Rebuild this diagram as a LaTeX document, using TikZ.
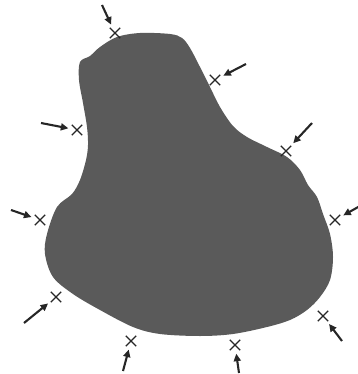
\documentclass[tikz,border=0pt]{standalone}
\usetikzlibrary{shapes.misc,arrows.meta}
\tikzset{
  mark x/.style={cross out,draw=black!85,line width=1.4pt,minimum size=9pt,inner sep=0pt},
  push/.style={draw=black!85,line width=2.1pt,-{Triangle[length=7.5pt,width=7pt]},shorten >=3.5pt}
}
\begin{document}
\begin{tikzpicture}[x=1pt,y=-1pt]
\useasboundingbox (0,0) rectangle (357,374);
\definecolor{blob}{HTML}{5A5A5A}
\fill[blob] plot[smooth cycle,tension=0.55] coordinates {
(80,62) (90,56) (100,47) (117,37) (140,33) (170,34) (182,38) (190,48)
(200,67) (210,87) (220,107) (233,126) (247,137) (267,147) (287,157)
(300,170) (308,185) (317,197) (323,214) (330,234) (333,257) (330,280)
(320,297) (307,310) (290,320) (267,327) (233,334) (200,336) (160,334)
(133,327) (100,310) (73,294) (53,277) (45,254) (47,234) (57,207)
(72,194) (80,180) (86,160) (88,145) (87,127) (83,103) (79,80)};
\node[mark x] (x1) at (115,33) {};
\node[mark x] (x2) at (215,80) {};
\node[mark x] (x3) at (77,130) {};
\node[mark x] (x4) at (286,151) {};
\node[mark x] (x5) at (40,220) {};
\node[mark x] (x6) at (335,220) {};
\node[mark x] (x7) at (56,297) {};
\node[mark x] (x8) at (323,316) {};
\node[mark x] (x9) at (131,341) {};
\node[mark x] (x10) at (235,345) {};
\coordinate (a1) at (102,5);
\coordinate (a2) at (246,64);
\coordinate (a3) at (41,123);
\coordinate (a4) at (312,123);
\coordinate (a5) at (11,210);
\coordinate (a6) at (360,206);
\coordinate (a7) at (24,323);
\coordinate (a8) at (342,341);
\coordinate (a9) at (123,371);
\coordinate (a10) at (239,373);
\foreach \i in {1,...,10} \draw[push] (a\i) -- (x\i);
\end{tikzpicture}
\end{document}
